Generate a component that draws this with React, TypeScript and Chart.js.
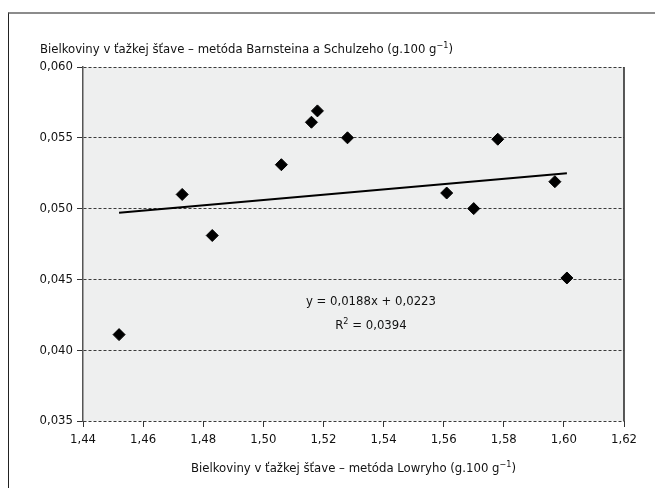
import React, { useEffect, useRef } from "react";
import { Chart, registerables } from "chart.js";

Chart.register(...registerables);

// Data
const xValues = [1.452, 1.473, 1.483, 1.506, 1.516, 1.518, 1.528, 1.561, 1.570, 1.578, 1.597, 1.601];
const yValues = [0.0411, 0.0510, 0.0481, 0.0531, 0.0561, 0.0569, 0.0550, 0.0511, 0.0500, 0.0549, 0.0519, 0.0451];
const trendX = [1.452, 1.601];
const trendY = [0.0497, 0.0525];
const xTicks = [1.44, 1.46, 1.48, 1.50, 1.52, 1.54, 1.56, 1.58, 1.60, 1.62];
const yTicks = [0.035, 0.040, 0.045, 0.050, 0.055, 0.060];
const yTitleBase = "Bielkoviny v ťažkej šťave – metóda Barnsteina a Schulzeho (g.100 g";
const xTitleBase = "Bielkoviny v ťažkej šťave – metóda Lowryho (g.100 g";
const unitSup = "−1";
const equationLine = "y = 0,0188x + 0,0223";
const r2Base = "R";
const r2Sup = "2";
const r2Rest = " = 0,0394";

const FONT = "'Liberation Sans Narrow', 'DejaVu Sans Condensed', 'Roboto', sans-serif";

function supWidth(ctx: CanvasRenderingContext2D, base: string, sup: string, rest: string, size: number) {
  ctx.font = `${size}px ${FONT}`;
  const a = ctx.measureText(base).width;
  const c = ctx.measureText(rest).width;
  ctx.font = `${Math.round(size * 0.7)}px ${FONT}`;
  const b = ctx.measureText(sup).width;
  return a + b + c;
}

function drawSup(
  ctx: CanvasRenderingContext2D,
  base: string,
  sup: string,
  rest: string,
  x: number,
  y: number,
  size: number,
  align: "left" | "center"
) {
  const total = supWidth(ctx, base, sup, rest, size);
  let cx = align === "center" ? x - total / 2 : x;
  ctx.textAlign = "left";
  ctx.textBaseline = "alphabetic";
  ctx.fillStyle = "#111";
  ctx.font = `${size}px ${FONT}`;
  ctx.fillText(base, cx, y);
  cx += ctx.measureText(base).width;
  ctx.font = `${Math.round(size * 0.7)}px ${FONT}`;
  ctx.fillText(sup, cx, y - size * 0.42);
  cx += ctx.measureText(sup).width;
  ctx.font = `${size}px ${FONT}`;
  ctx.fillText(rest, cx, y);
}

const decorPlugin = {
  id: "decor",
  beforeDraw(chart: any) {
    const { ctx, chartArea } = chart;
    ctx.save();
    ctx.fillStyle = "#eeefef";
    ctx.fillRect(chartArea.left, chartArea.top, chartArea.right - chartArea.left, chartArea.bottom - chartArea.top);
    ctx.restore();
  },
  afterDraw(chart: any) {
    const { ctx, chartArea, scales } = chart;
    ctx.save();
    // right frame of plot area
    ctx.strokeStyle = "#222";
    ctx.lineWidth = 1.5;
    ctx.beginPath();
    ctx.moveTo(chartArea.right, chartArea.top);
    ctx.lineTo(chartArea.right, chartArea.bottom);
    ctx.stroke();

    // axis titles
    drawSup(ctx, yTitleBase, unitSup, ")", 40, 53, 13, "left");
    drawSup(ctx, xTitleBase, unitSup, ")", (chartArea.left + chartArea.right) / 2, 472, 13, "center");

    // regression equation
    const ex = scales.x.getPixelForValue(1.5358);
    const ey = scales.y.getPixelForValue(0.0434);
    ctx.font = `13px ${FONT}`;
    ctx.fillStyle = "#111";
    ctx.textAlign = "center";
    ctx.textBaseline = "middle";
    ctx.fillText(equationLine, ex, ey);
    drawSup(ctx, r2Base, r2Sup, r2Rest, ex, ey + 27, 13, "center");
    ctx.restore();
  },
};

export default function App() {
  const canvasRef = useRef<HTMLCanvasElement | null>(null);

  useEffect(() => {
    const canvas = canvasRef.current;
    if (!canvas) return;
    const points = xValues.map((x, i) => ({ x, y: yValues[i] }));
    const trend = trendX.map((x, i) => ({ x, y: trendY[i] }));
    const chart = new Chart(canvas, {
      type: "scatter",
      data: {
        datasets: [
          {
            data: trend,
            showLine: true,
            borderColor: "#000",
            borderWidth: 2,
            pointRadius: 0,
            pointHoverRadius: 0,
            fill: false,
          },
          {
            data: points,
            pointStyle: "rectRot",
            pointRadius: 6,
            pointBackgroundColor: "#000",
            pointBorderColor: "#000",
            pointBorderWidth: 1,
            showLine: false,
          },
        ],
      },
      options: {
        responsive: false,
        animation: false,
        events: [],
        layout: { padding: { left: 0, top: 67, right: 31, bottom: 0 } },
        plugins: {
          legend: { display: false },
          title: { display: false },
          tooltip: { enabled: false },
        },
        scales: {
          x: {
            type: "linear",
            min: xTicks[0],
            max: xTicks[xTicks.length - 1],
            afterBuildTicks: (s: any) => {
              s.ticks = xTicks.map((v) => ({ value: v }));
            },
            afterFit: (s: any) => {
              s.height = 67;
            },
            ticks: {
              autoSkip: false,
              maxRotation: 0,
              padding: 5,
              color: "#111",
              font: { family: FONT, size: 13 },
              callback: (v: any) => Number(v).toFixed(2).replace(".", ","),
            },
            grid: {
              drawOnChartArea: false,
              drawTicks: true,
              tickLength: 6,
              tickColor: "#333",
              tickWidth: 1,
            },
            border: { display: false },
          },
          y: {
            type: "linear",
            min: yTicks[0],
            max: yTicks[yTicks.length - 1],
            afterBuildTicks: (s: any) => {
              s.ticks = yTicks.map((v) => ({ value: v }));
            },
            afterFit: (s: any) => {
              s.width = 83;
            },
            ticks: {
              autoSkip: false,
              padding: 4,
              color: "#111",
              font: { family: FONT, size: 13 },
              callback: (v: any) => Number(v).toFixed(3).replace(".", ","),
            },
            grid: {
              color: "#3a3a3a",
              lineWidth: 1,
              drawTicks: true,
              tickLength: 6,
              tickColor: "#333",
              tickWidth: 1,
              tickBorderDash: [],
            },
            border: { display: true, color: "#555", width: 1.5, dash: [3, 2] },
          },
        },
      },
      plugins: [decorPlugin],
    } as any);
    return () => chart.destroy();
  }, []);

  return (
    <div style={{ position: "fixed", left: 0, top: 0, width: 655, height: 488, background: "#fff" }}>
      <div
        style={{
          position: "absolute",
          left: 8,
          top: 12,
          right: -10,
          bottom: -10,
          borderTop: "2px solid #8c8c8c",
          borderLeft: "1px solid #222",
        }}
      />
      <canvas ref={canvasRef} width={655} height={488} style={{ position: "absolute", left: 0, top: 0, width: 655, height: 488 }} />
    </div>
  );
}
